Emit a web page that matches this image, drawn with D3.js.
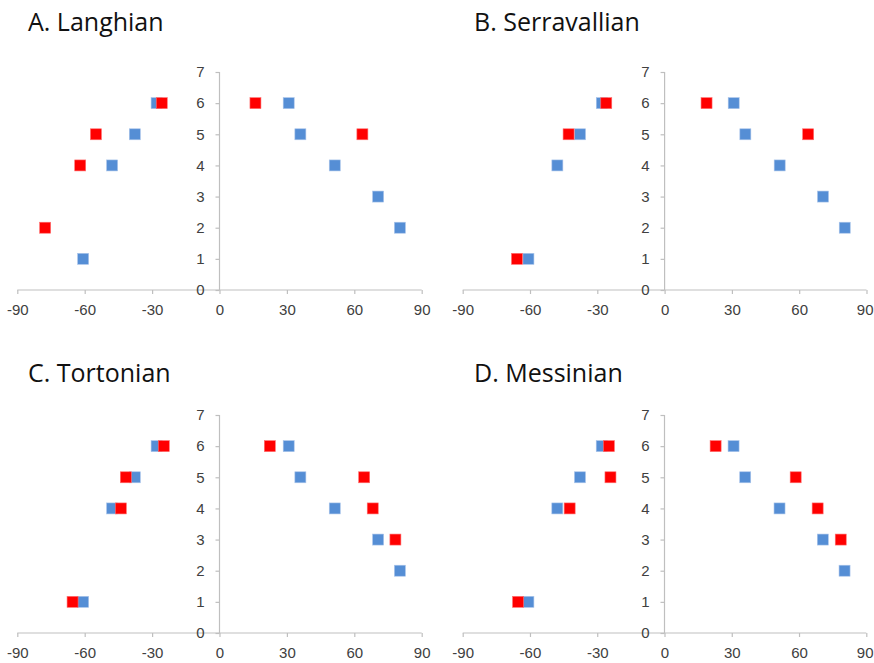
<!DOCTYPE html>
<html>
<head>
<meta charset="utf-8">
<script src="https://cdn.jsdelivr.net/npm/d3@7"></script>
<style>
body { margin: 0; background: #fff; }
svg { display: block; font-family: "Open Sans", sans-serif; }
.axis path, .axis line { stroke: #bfbfbf; stroke-width: 1.2; }
.axis text { fill: #404040; font-size: 15px; }
.title { fill: #111; font-size: 25px; }
</style>
</head>
<body>
<svg width="874" height="663"></svg>
<script>
// same blue series in every panel
var blueX = [-28, -37.7, -47.8, -60.7, 30.8, 36, 51.3, 70.6, 80.3];
var blueY = [6, 5, 4, 1, 6, 5, 4, 3, 2];

var titles = ["A. Langhian", "B. Serravallian", "C. Tortonian", "D. Messinian"];

var redA_x = [-25.7, -55, -62, -77.6, 16, 63.6];
var redA_y = [6, 5, 4, 2, 6, 5];
var redB_x = [-26, -42.8, -65.8, 18.7, 64];
var redB_y = [6, 5, 1, 6, 5];
var redC_x = [-24.8, -41.7, -43.9, -65.4, 22.4, 64.4, 68.2, 78.3];
var redC_y = [6, 5, 4, 1, 6, 5, 4, 3];
var redD_x = [-24.8, -24.1, -42.3, -65.3, 22.8, 58.5, 68.3, 78.6];
var redD_y = [6, 5, 4, 1, 6, 5, 4, 3];

var xTicks = [-90, -60, -30, 0, 30, 60, 90];
var yTicks = [0, 1, 2, 3, 4, 5, 6, 7];

var svg = d3.select("svg");
var W = +svg.attr("width");
var S = 11; // marker size
var fmt = function(d){ return String(d); }; // plain hyphen minus, no decimals

var panels = [
	{ title: titles[0], rx: redA_x, ry: redA_y, x0: 17.3, x1: 421.7, y0: 290, y1: 72, tx: 28, ty: 31 },
	{ title: titles[1], rx: redB_x, ry: redB_y, x0: 462.7, x1: 866.5, y0: 290, y1: 72, tx: 474, ty: 31 },
	{ title: titles[2], rx: redC_x, ry: redC_y, x0: 17.3, x1: 421.7, y0: 633, y1: 415, tx: 28, ty: 382 },
	{ title: titles[3], rx: redD_x, ry: redD_y, x0: 462.7, x1: 866.3, y0: 633, y1: 415, tx: 474, ty: 382 }
];

panels.forEach(function(p){
	var x = d3.scaleLinear().domain([-90, 90]).range([p.x0, p.x1]);
	var y = d3.scaleLinear().domain([0, 7]).range([p.y0, p.y1]);
	var g = svg.append("g");

	g.append("text").attr("class", "title")
		.attr("x", p.tx).attr("y", p.ty)
		.text(p.title);

	g.append("g").attr("class", "axis")
		.attr("transform", "translate(0," + y(0) + ")")
		.call(d3.axisBottom(x).tickValues(xTicks).tickFormat(fmt).tickSize(4).tickSizeOuter(0).tickPadding(10))
		.call(function(a){ a.select(".domain").attr("d", "M" + p.x0 + ",0H" + p.x1); })
		.call(function(a){
			// keep the last label inside the page
			a.selectAll(".tick text").each(function(d){
				var b = this.getBBox(), right = x(d) + b.x + b.width;
				if (right > W - 1) d3.select(this).attr("dx", (W - 1 - right) + "px");
			});
		});

	g.append("g").attr("class", "axis")
		.attr("transform", "translate(" + x(0) + ",0)")
		.call(d3.axisLeft(y).tickValues(yTicks).tickFormat(fmt).tickSize(4).tickSizeOuter(0).tickPadding(11))
		.call(function(a){ a.select(".domain").attr("d", "M0," + p.y0 + "V" + p.y1); });

	var blue = blueX.map(function(v, i){ return [v, blueY[i]]; });
	var red = p.rx.map(function(v, i){ return [v, p.ry[i]]; });

	g.selectAll(".blue").data(blue).enter().append("rect")
		.attr("class", "blue")
		.attr("x", function(d){ return x(d[0]) - S / 2; })
		.attr("y", function(d){ return y(d[1]) - S / 2; })
		.attr("width", S).attr("height", S)
		.attr("fill", "#558ed5")
		.attr("stroke", "#a9c4ea").attr("stroke-width", 0.6);

	g.selectAll(".red").data(red).enter().append("rect")
		.attr("class", "red")
		.attr("x", function(d){ return x(d[0]) - S / 2; })
		.attr("y", function(d){ return y(d[1]) - S / 2; })
		.attr("width", S).attr("height", S)
		.attr("fill", "#ff0000")
		.attr("stroke", "#ff7070").attr("stroke-width", 0.6);
});
</script>
</body>
</html>
